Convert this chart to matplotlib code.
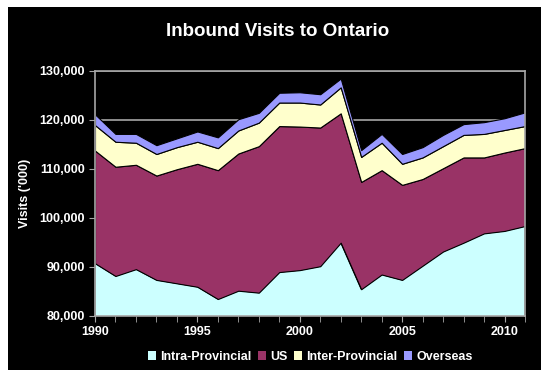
import numpy as np
import matplotlib
matplotlib.use("Agg")
import matplotlib.pyplot as plt
from matplotlib.patches import Rectangle, Patch

plt.rcParams['font.family'] = ['Liberation Sans', 'DejaVu Sans']

# Visits ('000) by source
years = list(range(1990, 2012))
intra_provincial = [90700, 88100, 89500, 87300, 86600, 85900, 83400, 85100, 84700, 88900, 89300,
                    90100, 94900, 85400, 88400, 87300, 90200, 93100, 94900, 96800, 97300, 98300]
us = [23000, 22300, 21300, 21300, 23300, 25100, 26300, 28000, 29900, 29800, 29300,
      28300, 26400, 21900, 21300, 19400, 17700, 17000, 17400, 15500, 16000, 15900]
inter_provincial = [5200, 5100, 4500, 4400, 4500, 4500, 4500, 4700, 4800, 4800, 4900,
                    4700, 5300, 5100, 5600, 4300, 4400, 4500, 4600, 4800, 4600, 4500]
overseas = [2200, 1600, 1800, 1800, 1800, 2100, 2200, 2300, 2000, 2000, 2100,
            2100, 1800, 1400, 1800, 2000, 2100, 2300, 2200, 2400, 2400, 2800]

labels = ["Intra-Provincial", "US", "Inter-Provincial", "Overseas"]
colors = ["#CCFFFF", "#993366", "#FFFFCC", "#9999FF"]

W, H = 541, 370
fig = plt.figure(figsize=(W / 100, H / 100), dpi=100, facecolor="white")
# black chart area (white strip on top and left like the original)
fig.patches.append(Rectangle((8 / W, 0), 1 - 8 / W, (H - 7) / H,
                             transform=fig.transFigure, facecolor="black",
                             edgecolor="none", zorder=-10))

ax = fig.add_axes([95 / W, (H - 315.7) / H, 430 / W, 245 / H])
ax.set_facecolor("black")

ax.stackplot(years, intra_provincial, us, inter_provincial, overseas,
             colors=colors, edgecolor="black", linewidth=0.8, zorder=2)

ax.set_xlim(1990, 2011)
ax.set_ylim(80000, 130000)
ax.set_yticks(np.arange(80000, 130001, 10000))
ax.set_xticks([1990, 1995, 2000, 2005, 2010])
ax.set_xticks(years, minor=True)
ax.yaxis.set_major_formatter(matplotlib.ticker.FuncFormatter(lambda v, p: f"{int(v):,}"))

ax.grid(axis="y", color="#a6a6a6", linewidth=1.2, zorder=1)
ax.set_axisbelow(True)

for side in ["top", "right", "left", "bottom"]:
    ax.spines[side].set_color("#a6a6a6")
    ax.spines[side].set_linewidth(1.2)

ax.tick_params(axis="both", which="both", colors="#a6a6a6", direction="out", length=4)
ax.tick_params(axis="both", labelcolor="white", labelsize=9)
for lab in ax.get_xticklabels() + ax.get_yticklabels():
    lab.set_fontweight("bold")

ax.set_ylabel("Visits ('000)", color="white", fontsize=9, fontweight="bold", labelpad=6)

fig.text(278 / W, 1 - 32 / H, "Inbound Visits to Ontario", color="white",
         fontsize=13.5, fontweight="bold", ha="center", va="center")

handles = [Patch(facecolor=c, edgecolor="none") for c in colors]
leg = fig.legend(handles, labels, loc="center", bbox_to_anchor=(310 / W, 1 - 357 / H),
                 ncol=4, frameon=False, handlelength=0.7, handleheight=0.7,
                 handletextpad=0.3, columnspacing=0.5,
                 prop={"size": 9, "weight": "bold"})
for t in leg.get_texts():
    t.set_color("white")

fig.savefig("out.png", dpi=100, facecolor=fig.get_facecolor())
